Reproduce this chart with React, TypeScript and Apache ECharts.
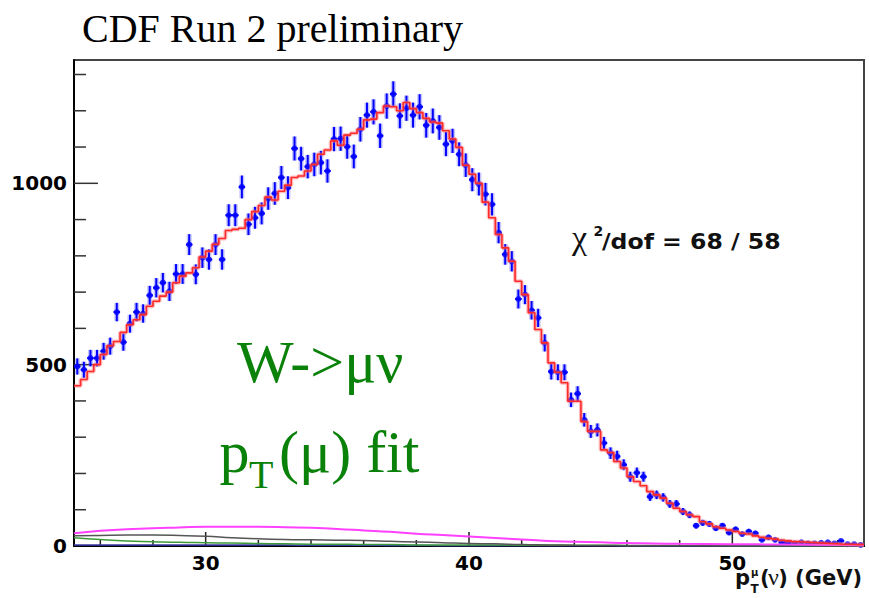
import React, { useEffect, useRef } from "react";
import * as echarts from "echarts";

// ---- binning ----
const binLow = 25;
const binWidth = 0.25;

// ---- data (events per bin, 120 bins of 0.25 GeV from 25 to 55 GeV) ----
const dataCounts = [
  495, 486, 518, 518, 537, 551, 645, 562, 613, 645,
  641, 691, 712, 726, 702, 750, 750, 831, 749, 795,
  790, 831, 790, 912, 912, 990, 887, 905, 917, 958,
  972, 1016, 988, 1096, 1068, 1046, 1052, 1057, 1034, 1122,
  1123, 1101, 1074, 1149, 1188, 1197, 1131, 1213, 1246, 1186,
  1207, 1188, 1211, 1160, 1172, 1154, 1108, 1117, 1080, 1050,
  1010, 998, 970, 942, 864, 804, 785, 681, 693, 650,
  629, 560, 481, 479, 479, 403, 420, 348, 316, 320,
  284, 256, 247, 224, 191, 202, 191, 136, 141, 134,
  116, 116, 95, 86, 56, 64, 61, 49, 56, 37,
  46, 33, 40, 35, 17, 24, 17, 10, 9, 7,
  10, 7, 7, 9, 10, 7, 14, 5, 5, 3,
];

// ---- fit template (red histogram) ----
const fitCounts = [
  442, 459, 481, 500, 528, 552, 564, 589, 610, 624,
  638, 661, 675, 689, 700, 726, 744, 753, 767, 797,
  813, 832, 848, 870, 873, 876, 900, 922, 939, 962,
  954, 978, 995, 1016, 1020, 1034, 1052, 1080, 1092, 1117,
  1105, 1133, 1138, 1149, 1175, 1177, 1195, 1213, 1211, 1200,
  1223, 1206, 1195, 1179, 1169, 1166, 1145, 1122, 1099, 1050,
  1025, 1000, 948, 905, 859, 822, 785, 730, 693, 643,
  597, 560, 505, 479, 450, 399, 399, 343, 316, 316,
  265, 258, 233, 215, 191, 178, 166, 150, 141, 132,
  118, 104, 95, 86, 81, 67, 61, 53, 49, 44,
  40, 35, 33, 28, 24, 21, 19, 16, 14, 12,
  11, 10, 9, 8, 7, 6, 5, 5, 4, 4,
];

// ---- background curves ----
const bkgX = [25, 26, 27, 28, 29, 30, 31, 32, 33, 34, 35, 36, 37, 38, 39, 40, 41, 42, 43, 44, 45, 46, 47, 48, 50, 52, 55];
const bkgMagenta = [35, 42, 46, 49, 51, 53, 53, 53, 52, 50, 47, 43, 39, 34, 30, 26, 22, 18, 14, 12, 10, 8, 7, 6, 5, 4, 2];
const bkgGray = [28, 29, 30, 30, 29, 27, 23, 20, 18, 17, 16, 15, 13, 11, 9, 7, 6, 4, 3, 2, 1.5, 1, 0.8, 0.6, 0.5, 0.3, 0.2];
const bkgGreen = [23, 18, 14, 12, 10, 9, 8, 7, 6, 5, 5, 4, 4, 3, 3, 3, 3, 2, 2, 2, 2, 1.5, 1.5, 1.5, 1, 1, 1];
const bkgNavy = [3, 3, 3, 3, 3, 3, 3, 2.5, 2.5, 2, 2, 2, 1.5, 1.5, 1, 1, 1, 0.5, 0.5, 0.5, 0.5, 0.3, 0.3, 0.2, 0.2, 0.1, 0];

// ---- axis ticks ----
const xTicks = [26, 28, 30, 32, 34, 36, 38, 40, 42, 44, 46, 48, 50, 52, 54];
const xMajor = [30, 40, 50];
const yTicks = [100, 200, 300, 400, 500, 600, 700, 800, 900, 1000, 1100, 1200, 1300];
const yMajor = [500, 1000];

const xMin = 25;
const xMax = 55;
const yMin = 0;
const yMax = 1340;

const green = "#0a820a";

export default function App() {
  const ref = useRef<HTMLDivElement>(null);

  useEffect(() => {
    if (!ref.current) return;
    const chart = echarts.init(ref.current, null, { renderer: "svg" });

    const centers = dataCounts.map((_, i) => binLow + (i + 0.5) * binWidth);
    const points = dataCounts.map((v, i) => [centers[i], v]);
    const fitLine = fitCounts.map((v, i) => [binLow + i * binWidth, v]);
    fitLine.push([binLow + fitCounts.length * binWidth, fitCounts[fitCounts.length - 1]]);

    const curve = (ys: number[]) => bkgX.map((x, i) => [x, ys[i]]);

    const labelStyle = {
      fontFamily: "DejaVu Sans",
      fontWeight: "bold" as const,
      fontSize: 20,
      color: "#000",
    };

    const txt = (
      text: string,
      x: number,
      y: number,
      size: number,
      family: string,
      weight: string,
      fill: string,
      align = "left",
      scaleX = 1,
      lineHeight = size
    ) => ({
      type: "text",
      x,
      y,
      scaleX,
      silent: true,
      z: 100,
      style: {
        x: 0,
        y: 0,
        text,
        fontSize: size,
        fontFamily: family,
        fontWeight: weight,
        fill,
        textAlign: align,
        align,
        textVerticalAlign: "middle",
        verticalAlign: "middle",
        lineHeight,
      },
    });

    const option: any = {
      animation: false,
      backgroundColor: "#fff",
      grid: {
        left: 74,
        right: 5,
        top: 60,
        bottom: 52,
        show: true,
        borderColor: "#444",
        borderWidth: 2,
        backgroundColor: "transparent",
      },
      xAxis: {
        type: "value",
        min: xMin,
        max: xMax,
        interval: 5,
        axisLine: { show: true, onZero: false, lineStyle: { color: "#000", width: 2 } },
        axisTick: { show: false },
        splitLine: { show: false },
        axisLabel: {
          ...labelStyle,
          lineHeight: 14,
          margin: 10,
          formatter: (v: number) => (xMajor.includes(v) ? String(v) : ""),
        },
      },
      yAxis: {
        type: "value",
        min: yMin,
        max: yMax,
        interval: 500,
        axisLine: { show: true, lineStyle: { color: "#000", width: 2 } },
        axisTick: { show: false },
        splitLine: { show: false },
        axisLabel: {
          ...labelStyle,
          margin: 7,
          formatter: (v: number) => (v % 500 === 0 ? String(v) : ""),
        },
      },
      series: [
        {
          type: "line",
          data: curve(bkgNavy),
          smooth: true,
          showSymbol: false,
          silent: true,
          lineStyle: { color: "#3a3aa8", width: 1.5 },
        },
        {
          type: "line",
          data: curve(bkgGreen),
          smooth: true,
          showSymbol: false,
          silent: true,
          lineStyle: { color: "#3c9a3c", width: 1.5 },
        },
        {
          type: "line",
          data: curve(bkgGray),
          smooth: true,
          showSymbol: false,
          silent: true,
          lineStyle: { color: "#555", width: 1.5 },
        },
        {
          type: "line",
          data: curve(bkgMagenta),
          smooth: true,
          showSymbol: false,
          silent: true,
          lineStyle: { color: "#ff40ff", width: 2 },
        },
        {
          type: "line",
          data: fitLine,
          step: "end",
          showSymbol: false,
          silent: true,
          lineStyle: { color: "rgba(255,110,110,0.45)", width: 4 },
        },
        {
          type: "line",
          data: fitLine,
          step: "end",
          showSymbol: false,
          silent: true,
          lineStyle: { color: "#ff2a2a", width: 1.6 },
        },
        {
          type: "custom",
          silent: true,
          clip: false,
          data: xTicks.map((v) => [v, 0]),
          renderItem: (_p: any, api: any) => {
            const v = api.value(0);
            const p = api.coord([v, 0]);
            const len = xMajor.includes(v) ? 14 : 6;
            return {
              type: "line",
              shape: { x1: p[0], y1: p[1], x2: p[0], y2: p[1] - len },
              style: { stroke: "#222", lineWidth: 1.5 },
            };
          },
        },
        {
          type: "custom",
          silent: true,
          clip: false,
          data: yTicks.map((v) => [xMin, v]),
          renderItem: (_p: any, api: any) => {
            const v = api.value(1);
            const p = api.coord([xMin, v]);
            const len = yMajor.includes(v) ? 24 : 12;
            return {
              type: "line",
              shape: { x1: p[0], y1: p[1], x2: p[0] + len, y2: p[1] },
              style: { stroke: "#333", lineWidth: 1.5 },
            };
          },
        },
        {
          type: "custom",
          silent: true,
          data: points,
          renderItem: (_p: any, api: any) => {
            const x = api.value(0);
            const v = api.value(1);
            const e = Math.sqrt(v);
            const top = api.coord([x, v + e]);
            const bot = api.coord([x, v - e]);
            const l = api.coord([x - binWidth / 2, v]);
            const r = api.coord([x + binWidth / 2, v]);
            return {
              type: "group",
              children: [
                {
                  type: "line",
                  shape: { x1: top[0], y1: top[1], x2: bot[0], y2: bot[1] },
                  style: { stroke: "rgba(90,90,255,0.35)", lineWidth: 5 },
                },
                {
                  type: "line",
                  shape: { x1: top[0], y1: top[1], x2: bot[0], y2: bot[1] },
                  style: { stroke: "#0000ff", lineWidth: 2 },
                },
                {
                  type: "line",
                  shape: { x1: l[0], y1: l[1], x2: r[0], y2: r[1] },
                  style: { stroke: "#0000ff", lineWidth: 2 },
                },
              ],
            };
          },
        },
        {
          type: "scatter",
          data: points,
          symbol: "circle",
          symbolSize: 6,
          silent: true,
          itemStyle: { color: "#0000ff" },
        },
      ],
      graphic: [
        txt("CDF Run 2 preliminary", 82, 28.5, 40, "Liberation Serif", "normal", "#000"),
        txt("W->\u03bc\u03bd", 237, 361.75, 60, "Liberation Serif", "normal", green),
        txt("p", 219.5, 451.75, 60, "Liberation Serif", "normal", green),
        txt("T", 249, 474.5, 40, "Liberation Serif", "normal", green),
        txt("(\u03bc) fit", 279, 451.75, 60, "Liberation Serif", "normal", green),
        txt("\u03c7", 572, 237, 34, "Liberation Serif", "normal", "#111"),
        txt("2", 593.5, 231.2, 14, "DejaVu Sans", "bold", "#111"),
        txt("/dof = 68 / 58", 602, 241.2, 20.5, "DejaVu Sans", "bold", "#111", "left", 1.15),
        txt("p", 735, 577.7, 21, "DejaVu Sans", "bold", "#111", "left", 1, 8),
        txt("\u03bc", 751, 572.5, 10, "DejaVu Sans", "bold", "#111", "left", 1, 8),
        txt("T", 750.5, 588.5, 12, "DejaVu Sans", "bold", "#111", "left", 1, 8),
        txt("(", 760, 577.7, 21, "DejaVu Sans", "bold", "#111"),
        txt("\u03bd", 768, 576.9, 24, "Liberation Serif", "normal", "#111"),
        txt(") (GeV)", 862, 577.7, 21, "DejaVu Sans", "bold", "#111", "right"),
      ],
    };

    chart.setOption(option);
    return () => chart.dispose();
  }, []);

  return (
    <div
      ref={ref}
      style={{ position: "fixed", left: 0, top: 0, width: 869, height: 598 }}
    />
  );
}
